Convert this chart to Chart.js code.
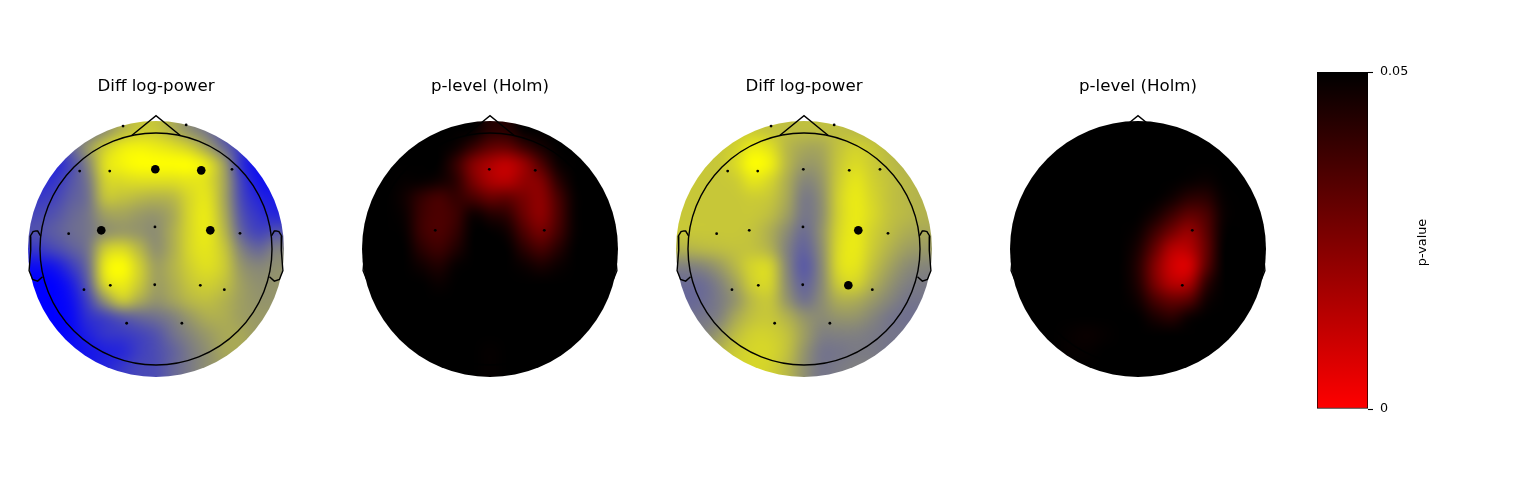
<!DOCTYPE html>
<html>
<head>
<meta charset="utf-8">
<title>Topomaps</title>
<script src="https://cdn.jsdelivr.net/npm/chart.js@4"></script>
<style>
    body { margin: 0; background: #fff; }
    canvas { position: absolute; }
</style>
</head>
<body>
<canvas id="mapA" width="290" height="320" style="left:11px;top:74px"></canvas>
<canvas id="mapB" width="290" height="320" style="left:345px;top:74px"></canvas>
<canvas id="mapC" width="290" height="320" style="left:659px;top:74px"></canvas>
<canvas id="mapD" width="290" height="320" style="left:993px;top:74px"></canvas>
<canvas id="colorbar" width="140" height="360" style="left:1300px;top:60px"></canvas>
<script>
// Sensor positions in head radius units
const sensorNames = ['Fp1', 'Fp2', 'F7', 'F3', 'Fz', 'F4', 'F8', 'T3', 'C3', 'Cz', 'C4', 'T4', 'T5', 'P3', 'Pz', 'P4', 'T6', 'O1', 'O2'];
const sensorX = [-0.284, 0.26, -0.658, -0.399, -0.006, 0.39, 0.655, -0.753, -0.472, -0.009, 0.468, 0.724, -0.621, -0.394, -0.011, 0.382, 0.589, -0.253, 0.223];
const sensorY = [1.06, 1.07, 0.672, 0.672, 0.687, 0.678, 0.687, 0.132, 0.161, 0.19, 0.161, 0.135, -0.351, -0.313, -0.308, -0.313, -0.351, -0.64, -0.64];

// Head outline
const noseX = [-0.2094, 0, 0.2094];
const noseY = [0.978, 1.15, 0.978];
const earX = [0.994, 1.02, 1.036, 1.0598, 1.0838, 1.08, 1.094, 1.064, 1.02, 0.978];
const earY = [0.111, 0.155, 0.1566, 0.1492, 0.111, -0.011, -0.1864, -0.2626, -0.2768, -0.2398];
const imageRadius = 1.1034;

// Diff log-power level, 0 = blue, 50 = gray, 100 = yellow
const diffLeft = [
    [30, 30, 30, 40, 55, 70, 78, 78, 68, 55, 45, 30, 20, 15, 15],
    [15, 20, 38, 60, 80, 92, 95, 92, 88, 80, 62, 40, 22, 12, 10],
    [8, 12, 28, 52, 88, 96, 100, 100, 100, 100, 90, 62, 18, 5, 5],
    [15, 20, 32, 46, 82, 86, 88, 88, 88, 90, 88, 65, 25, 8, 5],
    [22, 26, 36, 44, 76, 76, 72, 70, 72, 85, 90, 65, 28, 14, 10],
    [28, 32, 40, 46, 62, 64, 60, 58, 66, 85, 92, 68, 32, 20, 15],
    [32, 36, 42, 46, 56, 60, 58, 55, 68, 85, 92, 72, 38, 26, 32],
    [22, 28, 36, 46, 80, 86, 72, 56, 68, 85, 90, 78, 50, 40, 50],
    [5, 8, 22, 42, 92, 100, 82, 62, 70, 82, 88, 80, 58, 52, 56],
    [0, 0, 10, 36, 86, 94, 80, 62, 68, 78, 82, 76, 62, 56, 58],
    [0, 0, 5, 26, 58, 80, 68, 58, 64, 72, 75, 70, 62, 58, 58],
    [0, 0, 3, 18, 25, 34, 40, 44, 50, 60, 68, 68, 62, 60, 60],
    [0, 0, 3, 12, 20, 22, 26, 32, 44, 52, 60, 66, 66, 60, 60],
    [5, 5, 5, 8, 12, 15, 24, 30, 38, 48, 56, 65, 66, 60, 60],
    [10, 10, 10, 10, 14, 22, 28, 30, 40, 48, 56, 62, 62, 60, 60]
];
const diffRight = [
    [78, 78, 78, 78, 78, 76, 75, 75, 75, 75, 72, 70, 68, 66, 66],
    [78, 78, 78, 82, 92, 88, 72, 66, 66, 76, 82, 78, 72, 70, 70],
    [78, 78, 78, 86, 100, 95, 72, 60, 62, 78, 86, 80, 74, 70, 70],
    [78, 78, 78, 80, 90, 84, 68, 52, 58, 80, 90, 82, 76, 72, 70],
    [78, 78, 78, 78, 80, 78, 66, 47, 55, 82, 92, 84, 76, 72, 70],
    [78, 78, 78, 78, 78, 74, 62, 46, 54, 82, 92, 85, 76, 72, 70],
    [78, 78, 78, 78, 76, 68, 54, 42, 56, 84, 92, 82, 74, 68, 66],
    [70, 72, 74, 76, 76, 70, 50, 38, 54, 86, 92, 80, 70, 62, 60],
    [50, 52, 60, 72, 84, 84, 52, 34, 52, 86, 90, 76, 64, 55, 52],
    [42, 42, 50, 64, 82, 84, 54, 38, 52, 80, 84, 70, 58, 50, 48],
    [40, 42, 48, 58, 74, 78, 58, 44, 54, 68, 68, 60, 52, 46, 46],
    [44, 46, 50, 66, 76, 78, 70, 58, 54, 58, 58, 52, 46, 44, 44],
    [48, 50, 60, 74, 82, 82, 76, 62, 50, 50, 50, 48, 46, 46, 46],
    [60, 60, 70, 80, 84, 84, 76, 58, 46, 46, 48, 48, 46, 46, 46],
    [70, 70, 76, 82, 84, 82, 72, 56, 46, 48, 50, 50, 48, 46, 46]
];

// p-values in thousandths, 50 = 0.05 (black)
const pLeft = [
    [50, 50, 50, 50, 50, 50, 50, 43, 43, 50, 50, 50, 50, 50, 50],
    [50, 50, 50, 50, 50, 48, 40, 32, 31, 39, 46, 50, 50, 50, 50],
    [50, 50, 50, 50, 50, 40, 24, 16, 12, 20, 35, 48, 50, 50, 50],
    [50, 50, 49, 49, 47, 42, 26, 16, 14, 21, 25, 42, 50, 50, 50],
    [50, 50, 47, 40, 36, 40, 36, 30, 31, 26, 22, 36, 49, 50, 50],
    [50, 50, 48, 38, 35, 38, 48, 44, 41, 29, 22, 35, 49, 50, 50],
    [50, 50, 49, 38, 35, 40, 50, 50, 47, 35, 27, 37, 49, 50, 50],
    [50, 50, 50, 42, 38, 44, 50, 50, 50, 42, 36, 43, 50, 50, 50],
    [50, 50, 50, 47, 44, 49, 50, 50, 50, 48, 45, 48, 50, 50, 50],
    [50, 50, 50, 50, 48, 50, 50, 50, 50, 50, 50, 50, 50, 50, 50],
    [50, 50, 50, 50, 50, 50, 50, 50, 50, 50, 50, 50, 50, 50, 50],
    [50, 50, 50, 50, 50, 50, 50, 50, 50, 50, 50, 50, 50, 50, 50],
    [50, 50, 50, 50, 50, 50, 50, 50, 50, 50, 50, 50, 50, 50, 50],
    [50, 50, 50, 50, 50, 50, 50, 49, 50, 50, 50, 50, 50, 50, 50],
    [50, 50, 50, 50, 50, 50, 50, 49, 50, 50, 50, 50, 50, 50, 50]
];
const pRight = [
    [50, 50, 50, 50, 50, 50, 50, 50, 50, 50, 50, 50, 50, 50, 50],
    [50, 50, 50, 50, 50, 50, 50, 50, 50, 50, 50, 50, 50, 50, 50],
    [50, 50, 50, 50, 50, 50, 50, 50, 50, 50, 50, 50, 50, 50, 50],
    [50, 50, 50, 50, 50, 50, 50, 50, 50, 50, 49, 48, 50, 50, 50],
    [50, 50, 50, 50, 50, 50, 50, 50, 50, 47, 42, 42, 49, 50, 50],
    [50, 50, 50, 50, 50, 50, 50, 50, 46, 38, 31, 35, 48, 50, 50],
    [50, 50, 50, 50, 50, 50, 50, 48, 38, 27, 20, 32, 49, 50, 50],
    [50, 50, 50, 50, 50, 50, 50, 45, 30, 14, 14, 30, 50, 50, 50],
    [50, 50, 50, 50, 50, 50, 50, 43, 24, 9, 7, 32, 50, 50, 50],
    [50, 50, 50, 50, 50, 50, 50, 44, 26, 14, 16, 41, 50, 50, 50],
    [50, 50, 50, 50, 50, 50, 50, 47, 36, 30, 33, 47, 50, 50, 50],
    [50, 50, 50, 50, 50, 50, 50, 50, 45, 42, 48, 50, 50, 50, 50],
    [50, 50, 50, 49, 48, 49, 50, 50, 50, 50, 50, 50, 50, 50, 50],
    [50, 50, 50, 49, 49, 50, 50, 50, 50, 50, 50, 50, 50, 50, 50],
    [50, 50, 50, 50, 50, 50, 50, 50, 50, 50, 50, 50, 50, 50, 50]
];

// Which sensors are drawn small and which are marked big on each map
const smallA = ['Fp1', 'Fp2', 'F7', 'F3', 'F8', 'T3', 'Cz', 'T4', 'T5', 'P3', 'Pz', 'P4', 'T6', 'O1', 'O2'];
const bigA = ['Fz', 'F4', 'C3', 'C4'];
const smallB = ['Fz', 'F4', 'C3', 'C4'];
const smallC = ['Fp1', 'Fp2', 'F7', 'F3', 'Fz', 'F4', 'F8', 'T3', 'C3', 'Cz', 'T4', 'T5', 'P3', 'Pz', 'T6', 'O1', 'O2'];
const bigC = ['C4', 'P4'];
const smallD = ['C4', 'P4'];

// Colorbar
const colorbarValues = [0.05];
const colorbarTicks = [0, 0.05];

const FONT = "'DejaVu Sans', sans-serif";

document.addEventListener('DOMContentLoaded', function() {
    drawTopomap('mapA', 'Diff log-power', diffLeft, diffColor, smallA, bigA);
    drawTopomap('mapB', 'p-level (Holm)', pLeft, pColor, smallB, []);
    drawTopomap('mapC', 'Diff log-power', diffRight, diffColor, smallC, bigC);
    drawTopomap('mapD', 'p-level (Holm)', pRight, pColor, smallD, []);
    drawColorbar();
});

// blue -> gray -> yellow
function diffColor(level) {
    const t = level / 100;
    return [255 * t, 255 * t, 255 * (1 - t)];
}

// red at 0, black at 0.05
function pColor(level) {
    return [255 * (1 - level / 50), 0, 0];
}

function sensorPoints(names) {
    return names.map(name => {
        const i = sensorNames.indexOf(name);
        return { x: sensorX[i], y: sensorY[i] };
    });
}

function zip(xs, ys, sign) {
    return xs.map((x, i) => ({ x: sign * x, y: ys[i] }));
}

// Paints the value grid into the round image area, placed through the scales
const gridPlugin = {
    id: 'gridImage',
    beforeDatasetsDraw(chart, args, opts) {
        const rows = opts.grid.length;
        const cols = opts.grid[0].length;
        const small = document.createElement('canvas');
        small.width = cols;
        small.height = rows;
        const smallCtx = small.getContext('2d');
        const img = smallCtx.createImageData(cols, rows);
        opts.grid.forEach((row, j) => {
            row.forEach((value, i) => {
                const c = opts.color(value);
                const k = (j * cols + i) * 4;
                img.data[k] = c[0];
                img.data[k + 1] = c[1];
                img.data[k + 2] = c[2];
                img.data[k + 3] = 255;
            });
        });
        smallCtx.putImageData(img, 0, 0);

        const left = chart.scales.x.getPixelForValue(-imageRadius);
        const right = chart.scales.x.getPixelForValue(imageRadius);
        const top = chart.scales.y.getPixelForValue(imageRadius);
        const bottom = chart.scales.y.getPixelForValue(-imageRadius);
        const ctx = chart.ctx;
        ctx.save();
        ctx.beginPath();
        ctx.arc((left + right) / 2, (top + bottom) / 2, (right - left) / 2, 0, Math.PI * 2);
        ctx.clip();
        ctx.imageSmoothingEnabled = true;
        ctx.imageSmoothingQuality = 'high';
        ctx.drawImage(small, left, top, right - left, bottom - top);
        ctx.restore();
    }
};

function outlineDataset(points) {
    return {
        data: points,
        showLine: true,
        fill: false,
        borderColor: '#000',
        borderWidth: 1.4,
        pointRadius: 0,
        clip: false
    };
}

function drawTopomap(canvasId, title, grid, color, smallNames, bigNames) {
    const ctx = document.getElementById(canvasId).getContext('2d');
    new Chart(ctx, {
        type: 'scatter',
        data: {
            datasets: [
                { data: sensorPoints(bigNames), pointRadius: 4.3, pointBackgroundColor: '#000', pointBorderWidth: 0, clip: false },
                { data: sensorPoints(smallNames), pointRadius: 1.4, pointBackgroundColor: '#000', pointBorderWidth: 0, clip: false },
                // Head circle: a single point whose radius is one head radius on the x scale
                {
                    data: [{ x: 0, y: 0 }],
                    pointRadius: c => c.chart.scales.x.getPixelForValue(1) - c.chart.scales.x.getPixelForValue(0),
                    pointBackgroundColor: 'transparent',
                    pointBorderColor: '#000',
                    pointBorderWidth: 1.4,
                    clip: false
                },
                outlineDataset(zip(noseX, noseY, 1)),
                outlineDataset(zip(earX, earY, 1)),
                outlineDataset(zip(earX, earY, -1))
            ]
        },
        options: {
            responsive: false,
            animation: false,
            events: [],
            layout: { padding: 0, autoPadding: false },
            scales: {
                x: { display: false, min: -1.25, max: 1.25 },
                y: { display: false, min: -1.25, max: 1.25 }
            },
            plugins: {
                legend: { display: false },
                tooltip: { enabled: false },
                title: {
                    display: true,
                    text: title,
                    color: '#000',
                    font: { family: FONT, size: 16.67, weight: 'normal' },
                    padding: { top: 3, bottom: 7 }
                },
                gridImage: { grid: grid, color: color }
            }
        },
        plugins: [gridPlugin]
    });
}

// Colorbar label reads bottom to top, which the right side axis title can't do
const colorbarLabelPlugin = {
    id: 'colorbarLabel',
    afterDraw(chart) {
        const ctx = chart.ctx;
        const y = (chart.chartArea.top + chart.chartArea.bottom) / 2;
        ctx.save();
        ctx.translate(chart.chartArea.right + 55, y + 2);
        ctx.rotate(-Math.PI / 2);
        ctx.textAlign = 'center';
        ctx.textBaseline = 'middle';
        ctx.fillStyle = '#000';
        ctx.font = '12.8px ' + FONT;
        ctx.fillText('p-value', 0, 0);
        ctx.restore();
    }
};

function drawColorbar() {
    const ctx = document.getElementById('colorbar').getContext('2d');
    new Chart(ctx, {
        type: 'bar',
        data: {
            labels: ['p'],
            datasets: [{
                data: colorbarValues,
                barPercentage: 1,
                categoryPercentage: 1,
                borderColor: '#000',
                borderWidth: 1,
                borderSkipped: false,
                backgroundColor: c => {
                    const chartArea = c.chart.chartArea;
                    if (!chartArea || !chartArea.bottom) {
                        return '#000';
                    }
                    const g = c.chart.ctx.createLinearGradient(0, chartArea.bottom, 0, chartArea.top);
                    g.addColorStop(0, '#ff0000');
                    g.addColorStop(1, '#000000');
                    return g;
                }
            }]
        },
        options: {
            responsive: false,
            animation: false,
            events: [],
            layout: { padding: { left: 17, top: 12, bottom: 11, right: 0 }, autoPadding: false },
            scales: {
                x: { display: false },
                y: {
                    position: 'right',
                    min: 0,
                    max: 0.05,
                    afterBuildTicks: axis => { axis.ticks = colorbarTicks.map(v => ({ value: v })); },
                    afterFit: axis => {
                        axis.width = 72;
                        axis.paddingTop = 0;
                        axis.paddingBottom = 0;
                    },
                    grid: { drawOnChartArea: false, tickLength: 5, tickColor: '#000', tickWidth: 1.1 },
                    border: { display: false },
                    ticks: {
                        color: '#000',
                        padding: 7,
                        font: { family: FONT, size: 12.7 },
                        callback: v => String(v)
                    }
                }
            },
            plugins: {
                legend: { display: false },
                tooltip: { enabled: false },
                title: { display: false }
            }
        },
        plugins: [colorbarLabelPlugin]
    });
}
</script>
</body>
</html>
